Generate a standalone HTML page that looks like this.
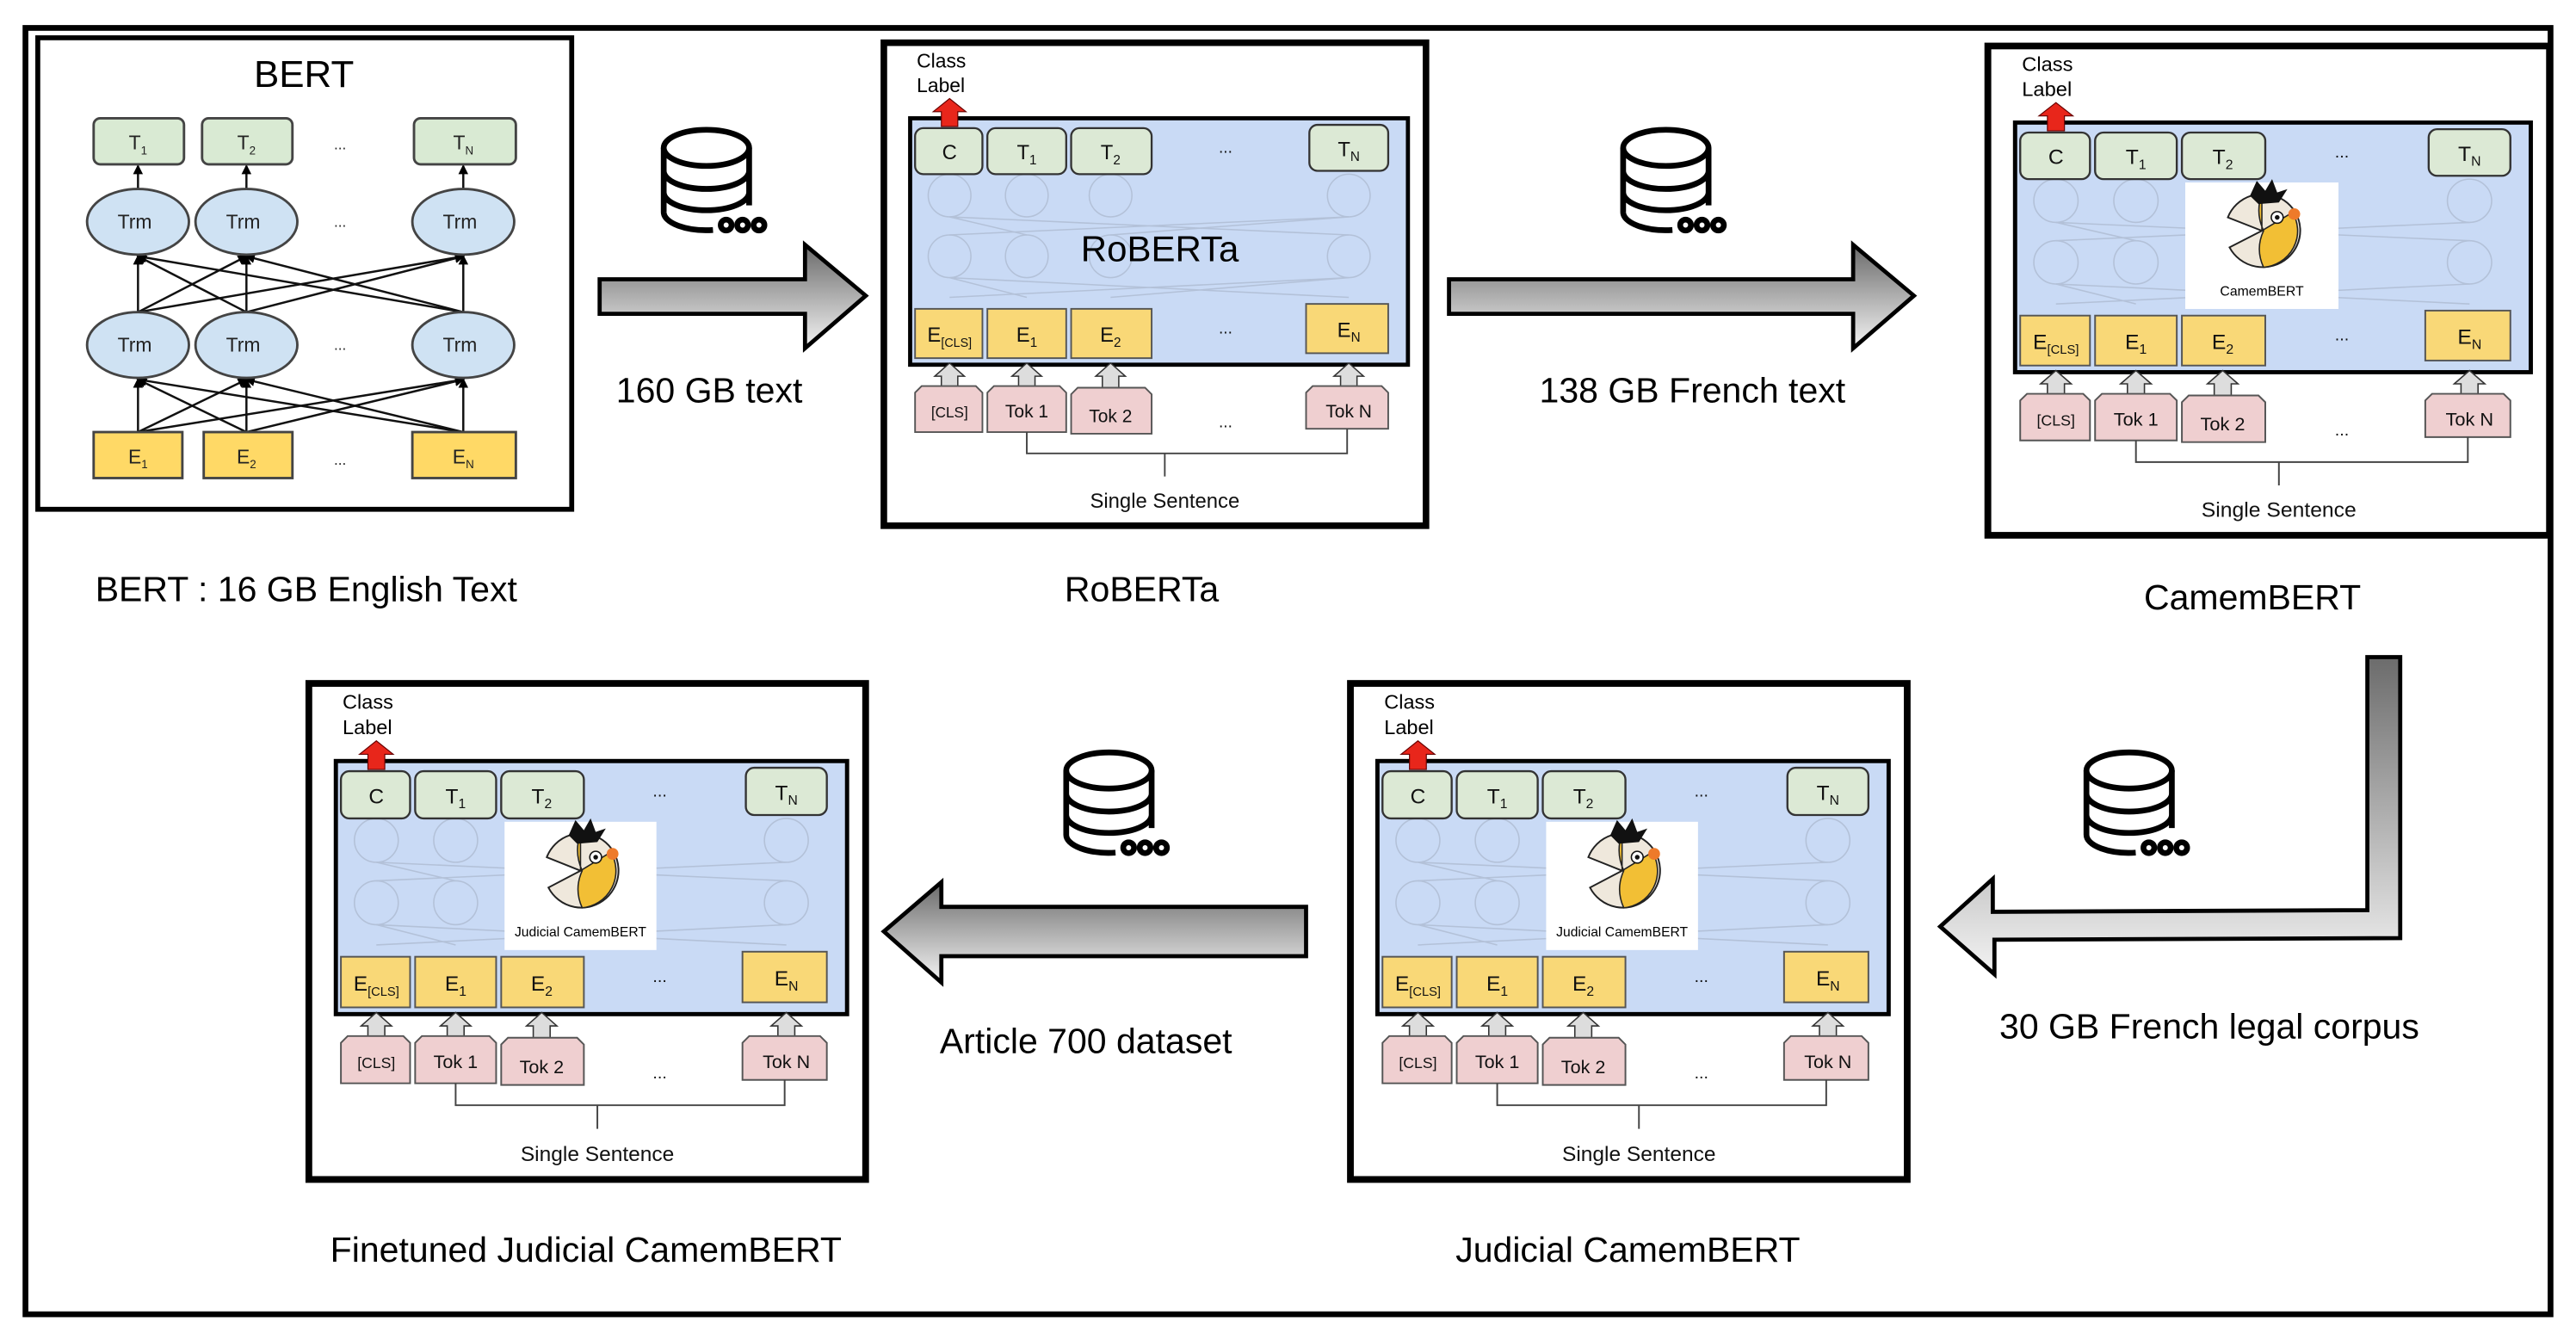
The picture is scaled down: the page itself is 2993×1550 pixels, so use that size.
<!DOCTYPE html>
<html><head><meta charset="utf-8"><style>html,body{margin:0;padding:0;background:#fff}svg{display:block}text{font-family:"Liberation Sans",sans-serif}</style></head><body>
<svg width="2993" height="1550" viewBox="0 0 1568 812" preserveAspectRatio="none" xmlns="http://www.w3.org/2000/svg">
<defs>
<linearGradient id="gv" x1="0" y1="0" x2="0" y2="1"><stop offset="0" stop-color="#6a6a6a"/><stop offset="1" stop-color="#f4f4f4"/></linearGradient>
<linearGradient id="gL" gradientUnits="userSpaceOnUse" x1="0" y1="398" x2="0" y2="595"><stop offset="0" stop-color="#6a6a6a"/><stop offset="1" stop-color="#f4f4f4"/></linearGradient>
<marker id="ah" markerWidth="6" markerHeight="6" refX="5" refY="3" orient="auto" markerUnits="userSpaceOnUse"><path d="M0,0 L6,3 L0,6 Z" fill="#000"/></marker>
</defs>
<rect width="1568" height="812" fill="#fff"/>
<rect x="15.5" y="17" width="1537" height="783" fill="none" stroke="#000" stroke-width="3.5"/>

<!-- BERT -->
<rect x="23" y="23" width="325" height="287" fill="#fff" stroke="#000" stroke-width="3"/>
<text x="185" y="53" font-size="23" text-anchor="middle">BERT</text>
<g stroke="#111" stroke-width="1.3" marker-end="url(#ah)">
<line x1="84" y1="263" x2="84" y2="231"/><line x1="84" y1="263" x2="150" y2="231"/><line x1="84" y1="263" x2="282" y2="231"/>
<line x1="150" y1="263" x2="84" y2="231"/><line x1="150" y1="263" x2="150" y2="231"/><line x1="150" y1="263" x2="282" y2="231"/>
<line x1="282" y1="263" x2="84" y2="231"/><line x1="282" y1="263" x2="150" y2="231"/><line x1="282" y1="263" x2="282" y2="231"/>
<line x1="84" y1="190" x2="84" y2="156"/><line x1="84" y1="190" x2="150" y2="156"/><line x1="84" y1="190" x2="282" y2="156"/>
<line x1="150" y1="190" x2="84" y2="156"/><line x1="150" y1="190" x2="150" y2="156"/><line x1="150" y1="190" x2="282" y2="156"/>
<line x1="282" y1="190" x2="84" y2="156"/><line x1="282" y1="190" x2="150" y2="156"/><line x1="282" y1="190" x2="282" y2="156"/>
<line x1="84" y1="116" x2="84" y2="101"/><line x1="150" y1="116" x2="150" y2="101"/><line x1="282" y1="116" x2="282" y2="101"/>
</g>
<g fill="#d9ead3" stroke="#444" stroke-width="1.5">
<rect x="57" y="72" width="55" height="28" rx="4"/><rect x="123" y="72" width="55" height="28" rx="4"/><rect x="252" y="72" width="62" height="28" rx="4"/></g>
<g fill="#cfe2f3" stroke="#444" stroke-width="1.5">
<ellipse cx="84" cy="135" rx="31" ry="20"/><ellipse cx="150" cy="135" rx="31" ry="20"/><ellipse cx="282" cy="135" rx="31" ry="20"/>
<ellipse cx="84" cy="210" rx="31" ry="20"/><ellipse cx="150" cy="210" rx="31" ry="20"/><ellipse cx="282" cy="210" rx="31" ry="20"/></g>
<g fill="#ffd966" stroke="#444" stroke-width="1.5">
<rect x="57" y="263" width="54" height="28"/><rect x="124" y="263" width="54" height="28"/><rect x="251" y="263" width="63" height="28"/></g>
<g font-size="12" text-anchor="middle" fill="#222">
<text x="84" y="91">T<tspan font-size="7" dy="3">1</tspan></text><text x="150" y="91">T<tspan font-size="7" dy="3">2</tspan></text><text x="282" y="91">T<tspan font-size="7" dy="3">N</tspan></text>
<text x="82" y="139">Trm</text><text x="148" y="139">Trm</text><text x="280" y="139">Trm</text>
<text x="82" y="214">Trm</text><text x="148" y="214">Trm</text><text x="280" y="214">Trm</text>
<text x="84" y="282">E<tspan font-size="7" dy="3">1</tspan></text><text x="150" y="282">E<tspan font-size="7" dy="3">2</tspan></text><text x="282" y="282">E<tspan font-size="7" dy="3">N</tspan></text>
<text x="207" y="91" font-size="9">...</text><text x="207" y="138" font-size="9">...</text><text x="207" y="213" font-size="9">...</text><text x="207" y="283" font-size="9">...</text>
</g>

<!-- RoBERTa panel -->
<g transform="translate(538,26)">
<rect x="0" y="0" width="330" height="294" fill="#fff" stroke="#000" stroke-width="4"/>
<text x="20" y="15" font-size="12">Class</text><text x="20" y="30" font-size="12">Label</text>
<rect x="16" y="46" width="303" height="150" fill="#c9daf5" stroke="#000" stroke-width="2.5"/>
<g stroke="#b3c1d8" fill="none" stroke-width="0.8"><circle cx="40" cy="93" r="13"/><circle cx="87" cy="93" r="13"/><circle cx="138" cy="93" r="13"/><circle cx="283" cy="93" r="13"/><circle cx="40" cy="130" r="13"/><circle cx="87" cy="130" r="13"/><circle cx="138" cy="130" r="13"/><circle cx="283" cy="130" r="13"/>
<path d="M40,117 L283,106 M87,117 L40,106 M138,117 L283,106 M283,117 L40,106 M40,155 L283,143 M87,155 L40,143 M138,155 L283,143 M283,155 L40,143"/></g>
<text x="168" y="133" font-size="22" text-anchor="middle">RoBERTa</text>
<polygon points="30,42 40,34 50,42 45,42 45,51 35,51 35,42" fill="#e8261b" stroke="#600" stroke-width="0.6"/>
<g fill="#dce9d5" stroke="#333" stroke-width="1.2"><rect x="19" y="52" width="41" height="28" rx="5"/><rect x="63" y="52" width="48" height="28" rx="5"/><rect x="114" y="52" width="49" height="28" rx="5"/><rect x="259" y="50" width="48" height="28" rx="5"/></g>
<g fill="#f9d877" stroke="#555" stroke-width="1"><rect x="19" y="162" width="41" height="30"/><rect x="63" y="162" width="48" height="30"/><rect x="114" y="162" width="49" height="30"/><rect x="257" y="159" width="50" height="30"/></g>
<g fill="#ddd" stroke="#333" stroke-width="0.8"><polygon points="31,203 40,195 49,203 45,203 45,211 35,211 35,203"/><polygon points="78,203 87,195 96,203 92,203 92,211 82,211 82,203"/><polygon points="129,203 138,195 147,203 143,203 143,211 133,211 133,203"/><polygon points="274,203 283,195 292,203 288,203 288,211 278,211 278,203"/></g>
<g fill="#efcfd0" stroke="#555" stroke-width="1"><polygon points="19,213 23,209 56,209 60,213 60,237 19,237"/><polygon points="63,213 67,209 107,209 111,213 111,237 63,237"/><polygon points="114,214 118,210 159,210 163,214 163,238 114,238"/><polygon points="257,213 261,209 303,209 307,213 307,235 257,235"/></g>
<g font-size="12.5" text-anchor="middle" fill="#111">
<text x="40" y="71">C</text><text x="87" y="71">T<tspan font-size="8" dy="3">1</tspan></text><text x="138" y="71">T<tspan font-size="8" dy="3">2</tspan></text><text x="283" y="69">T<tspan font-size="8" dy="3">N</tspan></text>
<text x="40" y="182">E<tspan font-size="7.5" dy="3">[CLS]</tspan></text><text x="87" y="182">E<tspan font-size="8" dy="3">1</tspan></text><text x="138" y="182">E<tspan font-size="8" dy="3">2</tspan></text><text x="283" y="179">E<tspan font-size="8" dy="3">N</tspan></text>
<text x="40" y="228" font-size="9">[CLS]</text><text x="87" y="228" font-size="11">Tok 1</text><text x="138" y="231" font-size="11">Tok 2</text><text x="283" y="228" font-size="11">Tok N</text>
<text x="208" y="67" font-size="10">...</text><text x="208" y="177" font-size="10">...</text><text x="208" y="234" font-size="10">...</text>
<text x="171" y="283" font-size="12.5">Single Sentence</text></g>
<path d="M87,237 V250 H282 V235 M171,250 V264" fill="none" stroke="#444" stroke-width="1"/>
</g>

<!-- CamemBERT panel -->
<g transform="translate(1210,28) scale(1.036,1.013)">
<rect x="0" y="0" width="330" height="294" fill="#fff" stroke="#000" stroke-width="4"/>
<text x="20" y="15" font-size="12">Class</text><text x="20" y="30" font-size="12">Label</text>
<rect x="16" y="46" width="303" height="150" fill="#c9daf5" stroke="#000" stroke-width="2.5"/>
<g stroke="#b3c1d8" fill="none" stroke-width="0.8"><circle cx="40" cy="93" r="13"/><circle cx="87" cy="93" r="13"/><circle cx="283" cy="93" r="13"/><circle cx="40" cy="130" r="13"/><circle cx="87" cy="130" r="13"/><circle cx="283" cy="130" r="13"/>
<path d="M40,117 L283,106 M87,117 L40,106 M283,117 L40,106 M40,155 L283,143 M87,155 L40,143 M283,155 L40,143"/></g>
<polygon points="30,42 40,34 50,42 45,42 45,51 35,51 35,42" fill="#e8261b" stroke="#600" stroke-width="0.6"/>
<g fill="#dce9d5" stroke="#333" stroke-width="1.2"><rect x="19" y="52" width="41" height="28" rx="5"/><rect x="63" y="52" width="48" height="28" rx="5"/><rect x="114" y="52" width="49" height="28" rx="5"/><rect x="259" y="50" width="48" height="28" rx="5"/></g>
<rect x="116" y="82" width="90" height="76" fill="#fff"/>
<path d="M161,111 L141,103 A22,22 0 1,1 142,121 Z" fill="#efe8dc" stroke="#222" stroke-width="1"/>
<path d="M161,89 Q157,100 162,111 Q157,122 162,133 A22,22 0 0,0 179,100 L161,111 Z" fill="#f2bf35" stroke="#222" stroke-width="0.8"/>
<polygon points="154,90 158,81 163,87 167,80 170,88 176,86 171,94 159,95" fill="#111"/>
<circle cx="170" cy="103" r="3.5" fill="#fff" stroke="#111" stroke-width="0.8"/><circle cx="170" cy="103" r="1.4" fill="#111"/>
<circle cx="180" cy="101" r="3.5" fill="#ee7a2a"/>
<text x="161" y="150" font-size="8" text-anchor="middle">CamemBERT</text>
<g fill="#f9d877" stroke="#555" stroke-width="1"><rect x="19" y="162" width="41" height="30"/><rect x="63" y="162" width="48" height="30"/><rect x="114" y="162" width="49" height="30"/><rect x="257" y="159" width="50" height="30"/></g>
<g fill="#ddd" stroke="#333" stroke-width="0.8"><polygon points="31,203 40,195 49,203 45,203 45,211 35,211 35,203"/><polygon points="78,203 87,195 96,203 92,203 92,211 82,211 82,203"/><polygon points="129,203 138,195 147,203 143,203 143,211 133,211 133,203"/><polygon points="274,203 283,195 292,203 288,203 288,211 278,211 278,203"/></g>
<g fill="#efcfd0" stroke="#555" stroke-width="1"><polygon points="19,213 23,209 56,209 60,213 60,237 19,237"/><polygon points="63,213 67,209 107,209 111,213 111,237 63,237"/><polygon points="114,214 118,210 159,210 163,214 163,238 114,238"/><polygon points="257,213 261,209 303,209 307,213 307,235 257,235"/></g>
<g font-size="12.5" text-anchor="middle" fill="#111">
<text x="40" y="71">C</text><text x="87" y="71">T<tspan font-size="8" dy="3">1</tspan></text><text x="138" y="71">T<tspan font-size="8" dy="3">2</tspan></text><text x="283" y="69">T<tspan font-size="8" dy="3">N</tspan></text>
<text x="40" y="182">E<tspan font-size="7.5" dy="3">[CLS]</tspan></text><text x="87" y="182">E<tspan font-size="8" dy="3">1</tspan></text><text x="138" y="182">E<tspan font-size="8" dy="3">2</tspan></text><text x="283" y="179">E<tspan font-size="8" dy="3">N</tspan></text>
<text x="40" y="228" font-size="9">[CLS]</text><text x="87" y="228" font-size="11">Tok 1</text><text x="138" y="231" font-size="11">Tok 2</text><text x="283" y="228" font-size="11">Tok N</text>
<text x="208" y="67" font-size="10">...</text><text x="208" y="177" font-size="10">...</text><text x="208" y="234" font-size="10">...</text>
<text x="171" y="283" font-size="12.5">Single Sentence</text></g>
<path d="M87,237 V250 H282 V235 M171,250 V264" fill="none" stroke="#444" stroke-width="1"/>
</g>

<!-- Finetuned Judicial CamemBERT panel -->
<g transform="translate(188,416) scale(1.027,1.027)">
<rect x="0" y="0" width="330" height="294" fill="#fff" stroke="#000" stroke-width="4"/>
<text x="20" y="15" font-size="12">Class</text><text x="20" y="30" font-size="12">Label</text>
<rect x="16" y="46" width="303" height="150" fill="#c9daf5" stroke="#000" stroke-width="2.5"/>
<g stroke="#b3c1d8" fill="none" stroke-width="0.8"><circle cx="40" cy="93" r="13"/><circle cx="87" cy="93" r="13"/><circle cx="283" cy="93" r="13"/><circle cx="40" cy="130" r="13"/><circle cx="87" cy="130" r="13"/><circle cx="283" cy="130" r="13"/>
<path d="M40,117 L283,106 M87,117 L40,106 M283,117 L40,106 M40,155 L283,143 M87,155 L40,143 M283,155 L40,143"/></g>
<polygon points="30,42 40,34 50,42 45,42 45,51 35,51 35,42" fill="#e8261b" stroke="#600" stroke-width="0.6"/>
<g fill="#dce9d5" stroke="#333" stroke-width="1.2"><rect x="19" y="52" width="41" height="28" rx="5"/><rect x="63" y="52" width="48" height="28" rx="5"/><rect x="114" y="52" width="49" height="28" rx="5"/><rect x="259" y="50" width="48" height="28" rx="5"/></g>
<rect x="116" y="82" width="90" height="76" fill="#fff"/>
<path d="M161,111 L141,103 A22,22 0 1,1 142,121 Z" fill="#efe8dc" stroke="#222" stroke-width="1"/>
<path d="M161,89 Q157,100 162,111 Q157,122 162,133 A22,22 0 0,0 179,100 L161,111 Z" fill="#f2bf35" stroke="#222" stroke-width="0.8"/>
<polygon points="154,90 158,81 163,87 167,80 170,88 176,86 171,94 159,95" fill="#111"/>
<circle cx="170" cy="103" r="3.5" fill="#fff" stroke="#111" stroke-width="0.8"/><circle cx="170" cy="103" r="1.4" fill="#111"/>
<circle cx="180" cy="101" r="3.5" fill="#ee7a2a"/>
<text x="161" y="150" font-size="8" text-anchor="middle">Judicial CamemBERT</text>
<g fill="#f9d877" stroke="#555" stroke-width="1"><rect x="19" y="162" width="41" height="30"/><rect x="63" y="162" width="48" height="30"/><rect x="114" y="162" width="49" height="30"/><rect x="257" y="159" width="50" height="30"/></g>
<g fill="#ddd" stroke="#333" stroke-width="0.8"><polygon points="31,203 40,195 49,203 45,203 45,211 35,211 35,203"/><polygon points="78,203 87,195 96,203 92,203 92,211 82,211 82,203"/><polygon points="129,203 138,195 147,203 143,203 143,211 133,211 133,203"/><polygon points="274,203 283,195 292,203 288,203 288,211 278,211 278,203"/></g>
<g fill="#efcfd0" stroke="#555" stroke-width="1"><polygon points="19,213 23,209 56,209 60,213 60,237 19,237"/><polygon points="63,213 67,209 107,209 111,213 111,237 63,237"/><polygon points="114,214 118,210 159,210 163,214 163,238 114,238"/><polygon points="257,213 261,209 303,209 307,213 307,235 257,235"/></g>
<g font-size="12.5" text-anchor="middle" fill="#111">
<text x="40" y="71">C</text><text x="87" y="71">T<tspan font-size="8" dy="3">1</tspan></text><text x="138" y="71">T<tspan font-size="8" dy="3">2</tspan></text><text x="283" y="69">T<tspan font-size="8" dy="3">N</tspan></text>
<text x="40" y="182">E<tspan font-size="7.5" dy="3">[CLS]</tspan></text><text x="87" y="182">E<tspan font-size="8" dy="3">1</tspan></text><text x="138" y="182">E<tspan font-size="8" dy="3">2</tspan></text><text x="283" y="179">E<tspan font-size="8" dy="3">N</tspan></text>
<text x="40" y="228" font-size="9">[CLS]</text><text x="87" y="228" font-size="11">Tok 1</text><text x="138" y="231" font-size="11">Tok 2</text><text x="283" y="228" font-size="11">Tok N</text>
<text x="208" y="67" font-size="10">...</text><text x="208" y="177" font-size="10">...</text><text x="208" y="234" font-size="10">...</text>
<text x="171" y="283" font-size="12.5">Single Sentence</text></g>
<path d="M87,237 V250 H282 V235 M171,250 V264" fill="none" stroke="#444" stroke-width="1"/>
</g>

<!-- Judicial CamemBERT panel -->
<g transform="translate(822,416) scale(1.027,1.027)">
<rect x="0" y="0" width="330" height="294" fill="#fff" stroke="#000" stroke-width="4"/>
<text x="20" y="15" font-size="12">Class</text><text x="20" y="30" font-size="12">Label</text>
<rect x="16" y="46" width="303" height="150" fill="#c9daf5" stroke="#000" stroke-width="2.5"/>
<g stroke="#b3c1d8" fill="none" stroke-width="0.8"><circle cx="40" cy="93" r="13"/><circle cx="87" cy="93" r="13"/><circle cx="283" cy="93" r="13"/><circle cx="40" cy="130" r="13"/><circle cx="87" cy="130" r="13"/><circle cx="283" cy="130" r="13"/>
<path d="M40,117 L283,106 M87,117 L40,106 M283,117 L40,106 M40,155 L283,143 M87,155 L40,143 M283,155 L40,143"/></g>
<polygon points="30,42 40,34 50,42 45,42 45,51 35,51 35,42" fill="#e8261b" stroke="#600" stroke-width="0.6"/>
<g fill="#dce9d5" stroke="#333" stroke-width="1.2"><rect x="19" y="52" width="41" height="28" rx="5"/><rect x="63" y="52" width="48" height="28" rx="5"/><rect x="114" y="52" width="49" height="28" rx="5"/><rect x="259" y="50" width="48" height="28" rx="5"/></g>
<rect x="116" y="82" width="90" height="76" fill="#fff"/>
<path d="M161,111 L141,103 A22,22 0 1,1 142,121 Z" fill="#efe8dc" stroke="#222" stroke-width="1"/>
<path d="M161,89 Q157,100 162,111 Q157,122 162,133 A22,22 0 0,0 179,100 L161,111 Z" fill="#f2bf35" stroke="#222" stroke-width="0.8"/>
<polygon points="154,90 158,81 163,87 167,80 170,88 176,86 171,94 159,95" fill="#111"/>
<circle cx="170" cy="103" r="3.5" fill="#fff" stroke="#111" stroke-width="0.8"/><circle cx="170" cy="103" r="1.4" fill="#111"/>
<circle cx="180" cy="101" r="3.5" fill="#ee7a2a"/>
<text x="161" y="150" font-size="8" text-anchor="middle">Judicial CamemBERT</text>
<g fill="#f9d877" stroke="#555" stroke-width="1"><rect x="19" y="162" width="41" height="30"/><rect x="63" y="162" width="48" height="30"/><rect x="114" y="162" width="49" height="30"/><rect x="257" y="159" width="50" height="30"/></g>
<g fill="#ddd" stroke="#333" stroke-width="0.8"><polygon points="31,203 40,195 49,203 45,203 45,211 35,211 35,203"/><polygon points="78,203 87,195 96,203 92,203 92,211 82,211 82,203"/><polygon points="129,203 138,195 147,203 143,203 143,211 133,211 133,203"/><polygon points="274,203 283,195 292,203 288,203 288,211 278,211 278,203"/></g>
<g fill="#efcfd0" stroke="#555" stroke-width="1"><polygon points="19,213 23,209 56,209 60,213 60,237 19,237"/><polygon points="63,213 67,209 107,209 111,213 111,237 63,237"/><polygon points="114,214 118,210 159,210 163,214 163,238 114,238"/><polygon points="257,213 261,209 303,209 307,213 307,235 257,235"/></g>
<g font-size="12.5" text-anchor="middle" fill="#111">
<text x="40" y="71">C</text><text x="87" y="71">T<tspan font-size="8" dy="3">1</tspan></text><text x="138" y="71">T<tspan font-size="8" dy="3">2</tspan></text><text x="283" y="69">T<tspan font-size="8" dy="3">N</tspan></text>
<text x="40" y="182">E<tspan font-size="7.5" dy="3">[CLS]</tspan></text><text x="87" y="182">E<tspan font-size="8" dy="3">1</tspan></text><text x="138" y="182">E<tspan font-size="8" dy="3">2</tspan></text><text x="283" y="179">E<tspan font-size="8" dy="3">N</tspan></text>
<text x="40" y="228" font-size="9">[CLS]</text><text x="87" y="228" font-size="11">Tok 1</text><text x="138" y="231" font-size="11">Tok 2</text><text x="283" y="228" font-size="11">Tok N</text>
<text x="208" y="67" font-size="10">...</text><text x="208" y="177" font-size="10">...</text><text x="208" y="234" font-size="10">...</text>
<text x="171" y="283" font-size="12.5">Single Sentence</text></g>
<path d="M87,237 V250 H282 V235 M171,250 V264" fill="none" stroke="#444" stroke-width="1"/>
</g>

<!-- Big arrows -->
<polygon points="365,170 490,170 490,149 527,180 490,212 490,191 365,191" fill="url(#gv)" stroke="#000" stroke-width="2.5"/>
<polygon points="882,170 1128,170 1128,149 1165,180 1128,212 1128,191 882,191" fill="url(#gv)" stroke="#000" stroke-width="2.5"/>
<polygon points="1441,400 1461,400 1461,571 1214,572 1214,593 1181,564 1213,535 1213,555 1441,554" fill="url(#gL)" stroke="#000" stroke-width="2.5"/>
<polygon points="795,552 573,552 573,537 538,567 573,598 573,582 795,582" fill="url(#gv)" stroke="#000" stroke-width="2.5"/>

<!-- Database icons -->
<g fill="none" stroke="#000" stroke-width="3.5">
<g transform="translate(402,77)"><ellipse cx="28" cy="13" rx="26" ry="11"/><path d="M2,13 V52 M54,13 V48 M2,27 A26,11 0 0,0 54,27 M2,40 A26,11 0 0,0 54,40 M2,52 A26,11 0 0,0 32,63"/><circle cx="40" cy="60" r="3.3"/><circle cx="50" cy="60" r="3.3"/><circle cx="60" cy="60" r="3.3"/></g>
<g transform="translate(986,77)"><ellipse cx="28" cy="13" rx="26" ry="11"/><path d="M2,13 V52 M54,13 V48 M2,27 A26,11 0 0,0 54,27 M2,40 A26,11 0 0,0 54,40 M2,52 A26,11 0 0,0 32,63"/><circle cx="40" cy="60" r="3.3"/><circle cx="50" cy="60" r="3.3"/><circle cx="60" cy="60" r="3.3"/></g>
<g transform="translate(1268,456)"><ellipse cx="28" cy="13" rx="26" ry="11"/><path d="M2,13 V52 M54,13 V48 M2,27 A26,11 0 0,0 54,27 M2,40 A26,11 0 0,0 54,40 M2,52 A26,11 0 0,0 32,63"/><circle cx="40" cy="60" r="3.3"/><circle cx="50" cy="60" r="3.3"/><circle cx="60" cy="60" r="3.3"/></g>
<g transform="translate(647,456)"><ellipse cx="28" cy="13" rx="26" ry="11"/><path d="M2,13 V52 M54,13 V48 M2,27 A26,11 0 0,0 54,27 M2,40 A26,11 0 0,0 54,40 M2,52 A26,11 0 0,0 32,63"/><circle cx="40" cy="60" r="3.3"/><circle cx="50" cy="60" r="3.3"/><circle cx="60" cy="60" r="3.3"/></g>
</g>

<!-- Labels -->
<g font-size="21.5" fill="#000">
<text x="375" y="245">160 GB text</text>
<text x="937" y="245">138 GB French text</text>
<text x="1217" y="632">30 GB French legal corpus</text>
<text x="572" y="641">Article 700 dataset</text>
<text x="58" y="366">BERT : 16 GB English Text</text>
<text x="648" y="366">RoBERTa</text>
<text x="1305" y="371">CamemBERT</text>
<text x="201" y="768">Finetuned Judicial CamemBERT</text>
<text x="886" y="768">Judicial CamemBERT</text>
</g>
</svg>
</body></html>
